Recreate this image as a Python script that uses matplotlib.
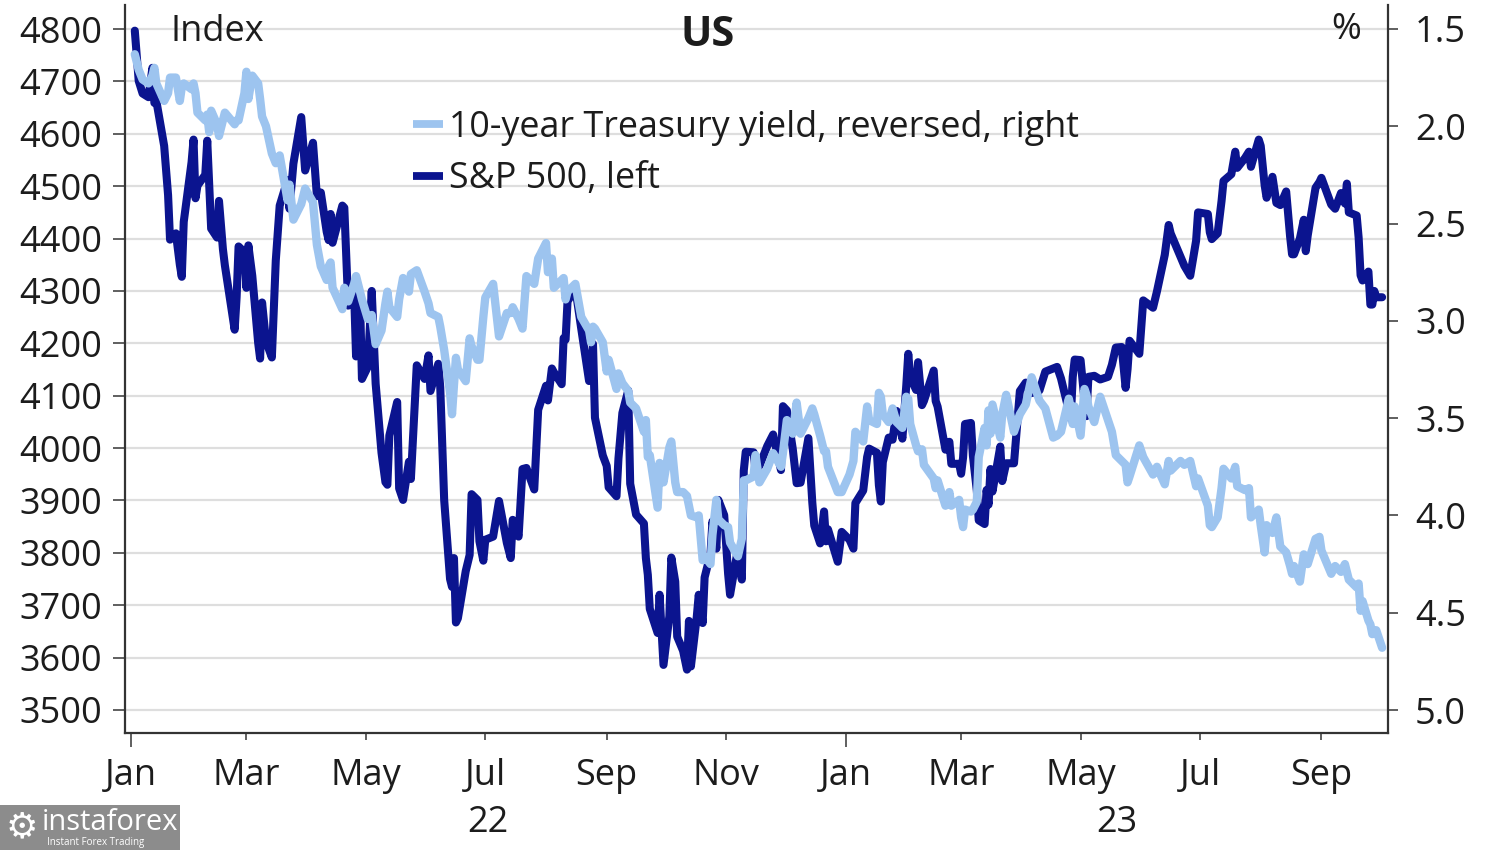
import matplotlib
matplotlib.use("Agg")
import matplotlib.pyplot as plt
from matplotlib.patches import Rectangle
import pandas as pd

plt.rcParams['font.family'] = ['Open Sans', 'DejaVu Sans']

# ---------------- data ----------------
dates = [
    # 2022
    "2022-01-03","2022-01-05","2022-01-07","2022-01-10","2022-01-12","2022-01-13","2022-01-14","2022-01-18","2022-01-20","2022-01-21","2022-01-24","2022-01-26","2022-01-27","2022-01-28",
    "2022-02-01","2022-02-02","2022-02-03","2022-02-04","2022-02-08","2022-02-09","2022-02-10","2022-02-11","2022-02-14","2022-02-15","2022-02-17","2022-02-18","2022-02-23","2022-02-24","2022-02-25","2022-02-28",
    "2022-03-01","2022-03-02","2022-03-04","2022-03-07","2022-03-08","2022-03-09","2022-03-11","2022-03-14","2022-03-16","2022-03-18","2022-03-22","2022-03-23","2022-03-25","2022-03-29","2022-03-31",
    "2022-04-04","2022-04-06","2022-04-08","2022-04-11","2022-04-12","2022-04-13","2022-04-14","2022-04-19","2022-04-20","2022-04-22","2022-04-25","2022-04-26","2022-04-28","2022-04-29",
    "2022-05-02","2022-05-04","2022-05-06","2022-05-09","2022-05-11","2022-05-12","2022-05-13","2022-05-17","2022-05-18","2022-05-20","2022-05-23","2022-05-24","2022-05-27","2022-05-31",
    "2022-06-02","2022-06-03","2022-06-07","2022-06-08","2022-06-10","2022-06-13","2022-06-14","2022-06-15","2022-06-16","2022-06-17","2022-06-21","2022-06-23","2022-06-24","2022-06-27","2022-06-28","2022-06-30",
    "2022-07-01","2022-07-05","2022-07-08","2022-07-12","2022-07-14","2022-07-15","2022-07-18","2022-07-20","2022-07-22","2022-07-26","2022-07-28",
    "2022-08-01","2022-08-02","2022-08-04","2022-08-05","2022-08-09","2022-08-10","2022-08-11","2022-08-12","2022-08-16","2022-08-19","2022-08-23","2022-08-24","2022-08-25","2022-08-26","2022-08-30",
    "2022-09-01","2022-09-02","2022-09-06","2022-09-07","2022-09-09","2022-09-12","2022-09-13","2022-09-16","2022-09-20","2022-09-21","2022-09-22","2022-09-23","2022-09-27","2022-09-28","2022-09-30",
    "2022-10-03","2022-10-04","2022-10-06","2022-10-07","2022-10-10","2022-10-12","2022-10-13","2022-10-14","2022-10-17","2022-10-18","2022-10-20","2022-10-21","2022-10-24","2022-10-25","2022-10-27","2022-10-28","2022-10-31",
    "2022-11-02","2022-11-03","2022-11-07","2022-11-09","2022-11-10","2022-11-11","2022-11-15","2022-11-16","2022-11-18","2022-11-22","2022-11-25","2022-11-29","2022-11-30",
    "2022-12-02","2022-12-05","2022-12-07","2022-12-09","2022-12-13","2022-12-15","2022-12-16","2022-12-19","2022-12-21","2022-12-22","2022-12-23","2022-12-28","2022-12-30",
    # 2023
    "2023-01-03","2023-01-05","2023-01-06","2023-01-10","2023-01-12","2023-01-13","2023-01-17","2023-01-18","2023-01-19","2023-01-20","2023-01-23","2023-01-25","2023-01-27","2023-01-30",
    "2023-02-01","2023-02-02","2023-02-03","2023-02-06","2023-02-07","2023-02-09","2023-02-10","2023-02-15","2023-02-16","2023-02-17","2023-02-21","2023-02-23","2023-02-24","2023-02-28",
    "2023-03-01","2023-03-02","2023-03-03","2023-03-06","2023-03-07","2023-03-09","2023-03-10","2023-03-13","2023-03-14","2023-03-15","2023-03-16","2023-03-17","2023-03-21","2023-03-22","2023-03-24","2023-03-28","2023-03-31",
    "2023-04-03","2023-04-06","2023-04-10","2023-04-13","2023-04-17","2023-04-19","2023-04-21","2023-04-25","2023-04-26","2023-04-27","2023-04-28",
    "2023-05-01","2023-05-03","2023-05-04","2023-05-05","2023-05-08","2023-05-11","2023-05-15","2023-05-17","2023-05-19","2023-05-22","2023-05-24","2023-05-25","2023-05-26","2023-05-31",
    "2023-06-02","2023-06-07","2023-06-09","2023-06-13","2023-06-15","2023-06-16","2023-06-21","2023-06-23","2023-06-26","2023-06-29","2023-06-30",
    "2023-07-05","2023-07-06","2023-07-07","2023-07-10","2023-07-12","2023-07-13","2023-07-17","2023-07-19","2023-07-20","2023-07-24","2023-07-26","2023-07-27","2023-07-31",
    "2023-08-01","2023-08-03","2023-08-04","2023-08-07","2023-08-09","2023-08-11","2023-08-14","2023-08-16","2023-08-17","2023-08-18","2023-08-21","2023-08-23","2023-08-24","2023-08-25","2023-08-29","2023-08-31",
    "2023-09-01","2023-09-06","2023-09-08","2023-09-11","2023-09-13","2023-09-14","2023-09-15","2023-09-19","2023-09-20","2023-09-21","2023-09-22","2023-09-25","2023-09-26","2023-09-27","2023-09-28","2023-09-29",
    "2023-10-02",
]

sp500 = [
    4797,4701,4677,4670,4726,4659,4663,4577,4483,4398,4410,4350,4327,4432,
    4546,4589,4477,4501,4522,4587,4504,4419,4402,4472,4380,4349,4226,4288,4385,4374,
    4306,4387,4329,4201,4171,4278,4204,4173,4358,4463,4512,4457,4543,4632,4530,
    4583,4481,4488,4413,4397,4447,4392,4463,4459,4272,4296,4175,4288,4132,
    4155,4300,4123,3991,3935,3930,4024,4088,3923,3901,3974,3941,4158,4132,
    4177,4109,4161,4116,3901,3750,3735,3790,3667,3675,3765,3796,3912,3901,3822,3785,
    3825,3831,3899,3819,3790,3863,3831,3960,3962,3921,4073,
    4119,4091,4152,4145,4122,4210,4207,4280,4305,4228,4128,4141,4199,4058,3986,
    3966,3925,3908,3980,4067,4110,3932,3873,3856,3790,3758,3693,3647,3720,3586,
    3679,3791,3745,3640,3613,3577,3670,3583,3678,3720,3666,3753,3798,3860,3808,3901,3872,
    3760,3720,3807,3749,3957,3993,3992,3959,3966,4004,4026,3958,4080,
    4072,3999,3933,3934,4019,3896,3852,3818,3879,3822,3845,3783,3840,
    3825,3808,3895,3919,3983,3999,3991,3929,3898,3973,4020,4016,4071,4018,
    4120,4180,4136,4111,4164,4082,4090,4148,4090,4079,3997,4012,3970,3970,
    3951,3982,4046,4048,3986,3919,3862,3855,3920,3892,3960,3917,4003,3937,3971,3971,4109,
    4125,4105,4110,4146,4152,4155,4133,4072,4056,4136,4169,
    4168,4091,4061,4136,4138,4131,4136,4159,4192,4193,4115,4151,4205,4180,
    4282,4268,4299,4369,4426,4410,4366,4348,4329,4396,4450,
    4447,4412,4399,4410,4472,4510,4523,4566,4535,4554,4566,4537,4589,
    4577,4502,4478,4518,4468,4464,4490,4404,4370,4370,4400,4436,4376,4406,4497,4508,
    4516,4465,4457,4487,4467,4505,4450,4444,4402,4330,4320,4337,4274,4274,4300,4288,
    4288,
]

treasury_10y = [
    1.63,1.71,1.76,1.78,1.74,1.70,1.78,1.87,1.83,1.75,1.75,1.87,1.80,1.78,
    1.81,1.78,1.83,1.93,1.97,1.94,2.03,1.92,1.99,2.05,1.97,1.93,1.99,1.97,1.97,1.83,
    1.72,1.86,1.74,1.78,1.86,1.95,2.00,2.14,2.19,2.15,2.38,2.30,2.48,2.40,2.32,
    2.39,2.61,2.72,2.79,2.72,2.70,2.83,2.94,2.83,2.90,2.81,2.77,2.85,2.89,
    2.99,2.97,3.12,3.05,2.91,2.85,2.93,2.98,2.89,2.78,2.85,2.76,2.74,2.85,
    2.91,2.96,2.98,3.03,3.15,3.37,3.48,3.33,3.19,3.25,3.31,3.09,3.13,3.20,3.20,2.98,
    2.88,2.81,3.08,2.96,2.96,2.93,2.99,3.04,2.77,2.81,2.68,
    2.60,2.75,2.68,2.83,2.79,2.78,2.89,2.85,2.81,2.98,3.05,3.11,3.03,3.04,3.11,
    3.26,3.20,3.35,3.27,3.32,3.36,3.42,3.45,3.57,3.51,3.70,3.69,3.96,3.73,3.83,
    3.65,3.62,3.83,3.88,3.88,3.90,3.95,4.00,4.01,4.00,4.23,4.21,4.25,4.10,3.92,4.02,4.05,
    4.06,4.14,4.21,4.12,3.82,3.82,3.80,3.69,3.83,3.76,3.68,3.75,3.68,
    3.51,3.58,3.42,3.58,3.50,3.45,3.48,3.59,3.67,3.67,3.75,3.88,3.88,
    3.79,3.72,3.57,3.62,3.44,3.51,3.53,3.37,3.39,3.48,3.52,3.45,3.52,3.55,
    3.39,3.40,3.53,3.64,3.67,3.66,3.74,3.81,3.86,3.82,3.95,3.88,3.95,3.92,
    4.01,4.06,3.97,3.98,3.97,3.93,3.70,3.55,3.64,3.46,3.58,3.43,3.60,3.48,3.38,3.57,3.48,
    3.43,3.29,3.41,3.45,3.60,3.59,3.57,3.40,3.45,3.53,3.44,
    3.59,3.35,3.38,3.44,3.52,3.39,3.51,3.57,3.69,3.72,3.74,3.83,3.80,3.64,
    3.70,3.79,3.75,3.84,3.72,3.77,3.72,3.74,3.72,3.85,3.81,
    3.95,4.05,4.06,4.01,3.86,3.76,3.81,3.75,3.85,3.87,3.86,4.01,3.97,
    4.05,4.19,4.05,4.09,4.01,4.16,4.19,4.26,4.30,4.26,4.34,4.20,4.24,4.25,4.12,4.11,
    4.18,4.30,4.26,4.29,4.25,4.29,4.33,4.37,4.35,4.49,4.44,4.54,4.56,4.61,4.59,4.59,
    4.68,
]

left_ticks = [3500, 3600, 3700, 3800, 3900, 4000, 4100, 4200, 4300, 4400, 4500, 4600, 4700, 4800]
right_ticks = [1.5, 2.0, 2.5, 3.0, 3.5, 4.0, 4.5, 5.0]
month_major = ["2022-01-01", "2023-01-01"]
month_minor = ["2022-03-01", "2022-05-01", "2022-07-01", "2022-09-01", "2022-11-01",
               "2023-03-01", "2023-05-01", "2023-07-01", "2023-09-01"]
major_labels = ["Jan", "Jan"]
minor_labels = ["Mar", "May", "Jul", "Sep", "Nov", "Mar", "May", "Jul", "Sep"]
year_labels = ["22", "23"]
year_pos = [("2022-01-01", "2023-01-01"), ("2023-01-01", "2023-10-05")]

label_sp = "S&P 500, left"
label_ty = "10-year Treasury yield, reversed, right"

# ---------------- figure ----------------
W, H = 1500, 850
fig = plt.figure(figsize=(15, 8.5), dpi=100)
ax = fig.add_axes([125 / W, (H - 733) / H, (1388 - 125) / W, (733 - 5) / H])
ax2 = ax.twinx()

x = pd.to_datetime(dates)
dark = "#0b148f"
light = "#9dc4ef"

l_sp, = ax.plot(x, sp500, color=dark, lw=5.8, solid_joinstyle="round", solid_capstyle="round", zorder=3)
l_ty, = ax2.plot(x, treasury_10y, color=light, lw=6.0, solid_joinstyle="round", solid_capstyle="round", zorder=3)

ax.set_xlim(pd.Timestamp("2021-12-29"), pd.Timestamp("2023-10-05"))
ax.set_ylim(3456, 4846)
ax2.set_ylim(5.118, 1.377)

tick_col = "#444444"
txt_col = "#1c1c1c"
fs = 26
ax.set_yticks(left_ticks)
ax.set_yticklabels([str(v) for v in left_ticks])
ax2.set_yticks(right_ticks)
ax2.set_yticklabels([f"{v:.1f}" for v in right_ticks])
ax.tick_params(axis="y", length=8.5, width=1.2, color=tick_col, labelsize=fs, labelcolor=txt_col, pad=8)
ax2.tick_params(axis="y", length=7.5, width=1.2, color=tick_col, labelsize=fs, labelcolor=txt_col, pad=12)

ax.set_xticks(pd.to_datetime(month_major))
ax.set_xticklabels(major_labels)
ax.set_xticks(pd.to_datetime(month_minor), minor=True)
ax.set_xticklabels(minor_labels, minor=True)
ax.tick_params(axis="x", which="major", length=10, width=1.2, color=tick_col, labelsize=fs, labelcolor=txt_col, pad=8)
ax.tick_params(axis="x", which="minor", length=5, width=1.2, color=tick_col, labelsize=fs, labelcolor=txt_col, pad=13)

ax.grid(axis="y", color="#dedede", lw=1.6)
ax.set_axisbelow(True)

for a in (ax, ax2):
    a.spines["top"].set_visible(False)
ax2.spines["left"].set_visible(False)
ax2.spines["bottom"].set_visible(False)
ax.spines["right"].set_visible(False)
for s in ("left", "bottom"):
    ax.spines[s].set_color("#333333")
    ax.spines[s].set_linewidth(1.6)
ax2.spines["right"].set_color("#333333")
ax2.spines["right"].set_linewidth(1.6)

# year labels centred under each year span
for lab, (a0, a1) in zip(year_labels, year_pos):
    t0, t1 = pd.Timestamp(a0), pd.Timestamp(a1)
    mid = t0 + (t1 - t0) / 2
    ax.text(mid, -0.123, lab, transform=ax.get_xaxis_transform(), ha="center", va="center",
            fontsize=fs, color=txt_col)

# header texts
fig.text(170 / W, 1 - 32 / H, "Index", fontsize=fs, color=txt_col, ha="left", va="center")
fig.text(708 / W, 1 - 35 / H, "US", fontsize=30, fontweight="bold", color=txt_col, ha="center", va="center")
fig.text(1361 / W, 1 - 30 / H, "%", fontsize=fs, color=txt_col, ha="right", va="center")

# legend
leg = ax2.legend(handles=[l_ty, l_sp], labels=[label_ty, label_sp], loc="upper left",
                 bbox_to_anchor=(413 / W, 1 - 110 / H), bbox_transform=fig.transFigure,
                 frameon=False, fontsize=25.8, handlelength=0.85, handletextpad=0.15,
                 labelspacing=0.42, borderpad=0, borderaxespad=0)
for t in leg.get_texts():
    t.set_color(txt_col)
for h in leg.get_lines():
    h.set_linewidth(5.6)
    h.set_solid_capstyle("butt")

# watermark
fig.patches.append(Rectangle((0, 0), 180 / W, 45 / H, transform=fig.transFigure,
                             facecolor="#8c8c8c", edgecolor="none", zorder=10))
fig.text(22 / W, 1 - 827 / H, "\u2699", fontsize=26, color="white", ha="center", va="center",
         family=["DejaVu Sans"], zorder=11)
fig.text(42 / W, 1 - 823 / H, "instaforex", fontsize=21, color="white", ha="left", va="center", zorder=11)
fig.text(47 / W, 1 - 842 / H, "Instant Forex Trading", fontsize=7, color="white", ha="left", va="center", zorder=11)

fig.savefig("out.png", dpi=100, facecolor="white")
